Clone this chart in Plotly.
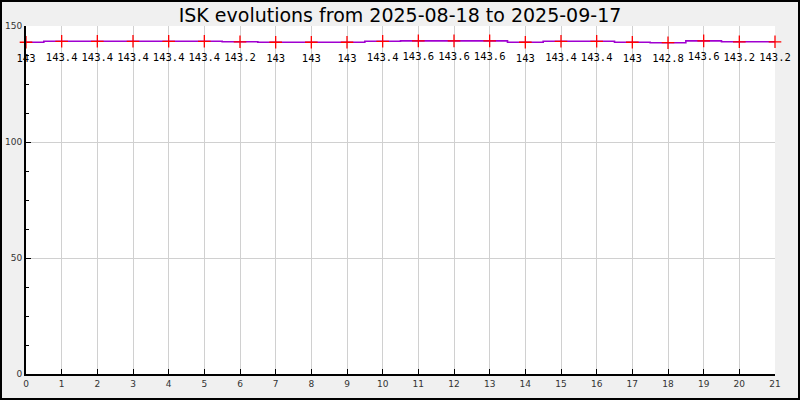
import plotly.graph_objects as go

days = list(range(22))
rates = [143, 143.4, 143.4, 143.4, 143.4, 143.4, 143.2, 143, 143, 143,
         143.4, 143.6, 143.6, 143.6, 143, 143.4, 143.4, 143, 142.8, 143.6,
         143.2, 143.2]
labels = ["143", "143.4", "143.4", "143.4", "143.4", "143.4", "143.2", "143", "143", "143",
          "143.4", "143.6", "143.6", "143.6", "143", "143.4", "143.4", "143", "142.8", "143.6",
          "143.2", "143.2"]
title = "ISK evolutions from 2025-08-18 to 2025-09-17"

W, H = 800, 400
ml, mr, mt, mb = 26, 25, 26, 26
pw, ph = W - ml - mr, H - mt - mb

fig = go.Figure()
fig.add_trace(go.Scatter(
    x=days, y=rates, mode="lines",
    line=dict(color="#A000D0", width=1.6, shape="hvh"),
    hoverinfo="skip", cliponaxis=False,
))
fig.add_trace(go.Scatter(
    x=days, y=rates, mode="markers+text",
    marker=dict(size=17, color="rgba(0,0,0,0)"),
    text=labels, textposition="bottom center",
    textfont=dict(family="DejaVu Sans Mono", size=10.5, color="#000000"),
    cliponaxis=False, hoverinfo="skip",
))
fig.add_trace(go.Scatter(
    x=days, y=rates, mode="markers",
    marker=dict(symbol="cross-thin", size=9, line=dict(color="#FF0000", width=1.3), color="#FF0000"),
    cliponaxis=False,
))

fig.update_layout(
    template="none",
    width=W, height=H,
    margin=dict(l=ml, r=mr, t=mt, b=mb, autoexpand=False),
    paper_bgcolor="#F0F0F0", plot_bgcolor="#FFFFFF",
    showlegend=False,
    title=dict(text=title, x=0.5, xanchor="center", y=1 - 15 / H, yanchor="middle",
               automargin=False,
               font=dict(family="DejaVu Sans", size=19, color="#000000")),
    font=dict(family="DejaVu Sans", size=9, color="#333333"),
)
fig.update_xaxes(
    range=[0, 21], tickmode="linear", tick0=0, dtick=1, automargin=False,
    showgrid=True, gridcolor="#D0D0D0", gridwidth=1,
    showline=True, linecolor="#000000", linewidth=2,
    ticks="inside", ticklen=5, tickcolor="#000000", tickwidth=1,
    zeroline=False, tickfont=dict(size=9, color="#333333"),
)
fig.update_yaxes(
    range=[0, 150], tickmode="linear", tick0=0, dtick=50, automargin=False,
    showgrid=True, gridcolor="#D0D0D0", gridwidth=1,
    showline=True, linecolor="#000000", linewidth=2,
    ticks="inside", ticklen=5, tickcolor="#000000", tickwidth=1,
    minor=dict(dtick=12.5, ticks="inside", ticklen=3, tickcolor="#000000", showgrid=False),
    zeroline=False, tickfont=dict(size=9, color="#333333"),
)
fig.add_shape(
    type="rect", xref="paper", yref="paper",
    x0=(-ml + 1) / pw, x1=1 + (mr - 1) / pw,
    y0=(-mb + 1) / ph, y1=1 + (mt - 1) / ph,
    line=dict(color="#000000", width=2), fillcolor="rgba(0,0,0,0)", layer="above",
)

fig.write_html("out.html", config={"displayModeBar": False},
               post_script="document.body.style.margin='0';document.body.style.overflow='hidden';")
